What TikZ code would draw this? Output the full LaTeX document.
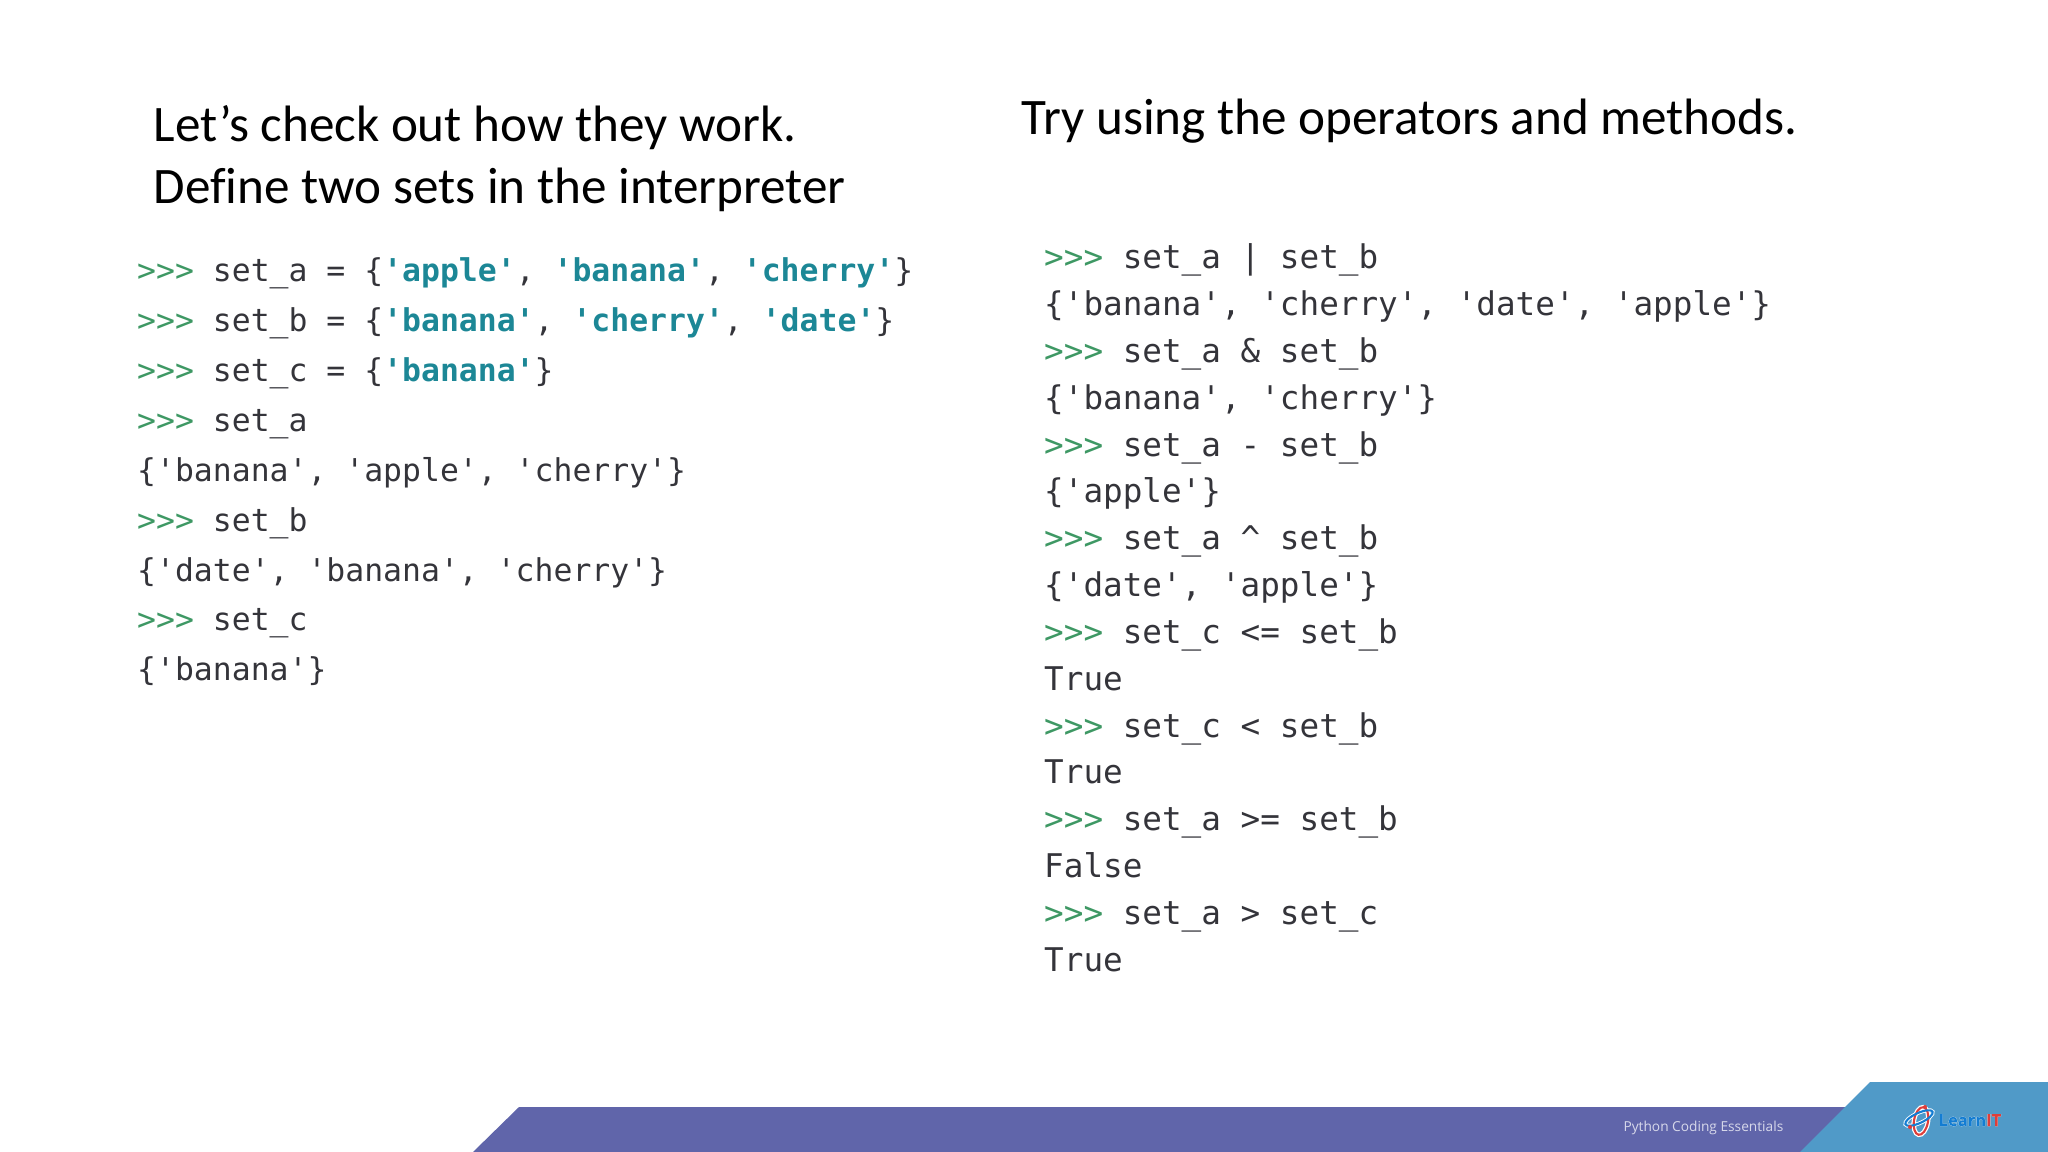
\documentclass[tikz,border=0pt]{standalone}
\usepackage{fontspec}
\setmainfont[Ligatures=NoCommon]{Carlito}
\newfontfamily\codefont{DejaVu Sans Mono}
\newfontfamily\footfont{Open Sans}
\newfontfamily\halofont[FakeBold=2]{Open Sans Bold}
\newfontfamily\logofont[FakeBold=0.4]{Open Sans Bold}
\definecolor{promptgreen}{RGB}{62, 152, 100}
\definecolor{stringteal}{RGB}{28, 135, 150}
\definecolor{codedark}{RGB}{52, 52, 58}
\definecolor{bandpurple}{RGB}{96, 101, 170}
\definecolor{bandblue}{RGB}{80, 154, 200}
\definecolor{logored}{RGB}{222, 62, 58}
\definecolor{logoblue}{RGB}{20, 125, 210}
\newcommand{\prm}{\textcolor{promptgreen}{>>>} }
\newcommand{\str}[1]{\textcolor{stringteal}{\textbf{#1}}}
\tikzset{
    heading/.style={anchor=base west,inner sep=0pt,text=black,font=\fontsize{14.55}{16}\selectfont},
    codeleft/.style={anchor=base west,inner sep=0pt,text=codedark,font=\codefont\fontsize{8.94}{11}\selectfont},
    coderight/.style={anchor=base west,inner sep=0pt,text=codedark,font=\codefont\fontsize{9.28}{11}\selectfont},
    logotype/.style={anchor=base west,inner sep=0pt,font=\fontsize{4.7}{5}\selectfont}
}

\begin{document}
\begin{tikzpicture}[x=0.01cm,y=-0.01cm]
        \useasboundingbox (0,0) rectangle (2048,1152);

        % Bottom band
        \fill[bandpurple] (519,1107) -- (1900,1107) -- (1900,1152) -- (473,1152) -- cycle;
        \fill[bandblue] (1870,1082) -- (2048,1082) -- (2048,1152) -- (1800,1152) -- cycle;
        \node[anchor=base east,inner sep=0pt,text=white!75!bandpurple,font=\footfont\fontsize{3.9}{5}\selectfont] (footer) at (1784,1131) {Python Coding Essentials};

        % Logo
        \draw[white,line width=1.3pt] (1921,1121) ellipse [x radius=7,y radius=14,rotate=-10];
        \draw[white,line width=1.1pt] (1919,1118) ellipse [x radius=15,y radius=5,rotate=25];
        \draw[logored,line width=0.6pt] (1921,1121) ellipse [x radius=7,y radius=14,rotate=-10];
        \draw[logoblue,line width=0.6pt] (1919,1118) ellipse [x radius=15,y radius=5,rotate=25];
        \fill[logored] (1925,1107) circle (2) (1910,1127) circle (2);
        \node[logotype,text=white] (logohalo) at (1938,1126) {\halofont LearnIT};
        \node[logotype,text=logoblue] (logotext) at (1938,1126) {\logofont Learn\textcolor{logored}{IT}};

        % Headings
        \node[heading] (intro) at (153,141.5) {Let’s check out how they work.};
        \node[heading] (define) at (153,204) {Define two sets in the interpreter};
        \node[heading] (try) at (1021,135) {Try using the operators and methods.};

        % Left column
        \foreach \txt [count=\i] in {
            {\prm set\_a = \{\str{'apple'}, \str{'banana'}, \str{'cherry'}\}},
            {\prm set\_b = \{\str{'banana'}, \str{'cherry'}, \str{'date'}\}},
            {\prm set\_c = \{\str{'banana'}\}},
            {\prm set\_a},
            {\{'banana', 'apple', 'cherry'\}},
            {\prm set\_b},
            {\{'date', 'banana', 'cherry'\}},
            {\prm set\_c},
            {\{'banana'\}}
        } {
            \node[codeleft] (left\i) at (136.5,{282+(\i-1)*49.85}) {\txt};
        }

        % Right column
        \foreach \txt [count=\i] in {
            {\prm set\_a | set\_b},
            {\{'banana', 'cherry', 'date', 'apple'\}},
            {\prm set\_a \& set\_b},
            {\{'banana', 'cherry'\}},
            {\prm set\_a - set\_b},
            {\{'apple'\}},
            {\prm set\_a \^{} set\_b},
            {\{'date', 'apple'\}},
            {\prm set\_c <= set\_b},
            {True},
            {\prm set\_c < set\_b},
            {True},
            {\prm set\_a >= set\_b},
            {False},
            {\prm set\_a > set\_c},
            {True}
        } {
            \node[coderight] (right\i) at (1043.5,{269+(\i-1)*46.8}) {\txt};
        }
    \end{tikzpicture}
\end{document}
